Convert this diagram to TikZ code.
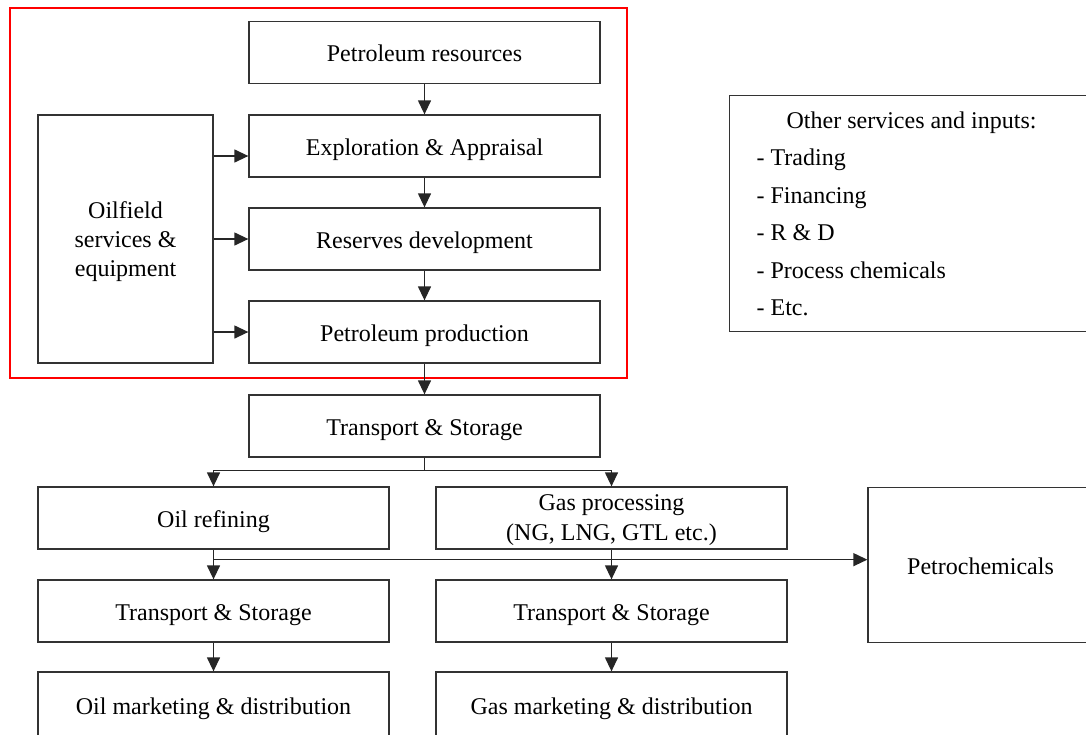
\documentclass[tikz,border=0pt]{standalone}
\usepackage{fontspec}
\setmainfont{Liberation Serif}
\usetikzlibrary{arrows.meta}

\begin{document}
\begin{tikzpicture}[
    x=1pt, y=-1pt,
    font=\fontsize{24pt}{29pt}\selectfont,
    box/.style={draw=black!80, line width=1.3pt, minimum width=351pt, minimum height=62pt, inner sep=0pt, align=center, text depth=0pt},
    line/.style={box, text height=18.5pt},
    arr/.style={draw=black!85, line width=1.3pt, -{Triangle[length=14pt,width=13pt]}},
    link/.style={draw=black!85, line width=1.3pt},
    frame/.style={draw=red, line width=2pt}
    ]

    \clip (0,0) rectangle (1086,734);
    \fill [white] (0,0) rectangle (1086,734);

    % upstream chain
    \node [line] (res)  at (424.5,52.5) {Petroleum resources};
    \node [line] (expl) at (424.5,146)  {Exploration \& Appraisal};
    \node [line] (dev)  at (424.5,239)  {Reserves development};
    \node [line] (prod) at (424.5,332)  {Petroleum production};
    \node [box, minimum width=175pt, minimum height=248pt] (ofs) at (125.5,239) {Oilfield\\ services \&\\ equipment};

    \draw [frame] (10,8) rectangle (627,378);

    \node [box, anchor=north west, text width=318pt, inner xsep=27pt, minimum height=236pt, align=flush left,
           text depth=, font=\fontsize{24pt}{37.5pt}\selectfont] (other) at (729,95)
          {\hspace*{30pt}Other services and inputs:\\- Trading\\- Financing\\- R \& D\\- Process chemicals\\- Etc.};

    % midstream and downstream
    \node [line] (trans)  at (424.5,426) {Transport \& Storage};
    \node [line] (refin)  at (213.5,518) {Oil refining};
    \node [box, font=\fontsize{24pt}{30pt}\selectfont] (gasp) at (611.5,518) {Gas processing\\ (NG, LNG, GTL etc.)};
    \node [line, minimum width=225pt, minimum height=155pt] (petro) at (980.5,565) {Petrochemicals};
    \node [line] (transo) at (213.5,611) {Transport \& Storage};
    \node [line] (transg) at (611.5,611) {Transport \& Storage};
    \node [line, minimum height=66pt] (oilm) at (213.5,705) {Oil marketing \& distribution};
    \node [line, minimum height=66pt] (gasm) at (611.5,705) {Gas marketing \& distribution};

    % connectors
    \draw [arr] (res) -- (expl);
    \draw [arr] (expl) -- (dev);
    \draw [arr] (dev) -- (prod);
    \draw [arr] (prod) -- (trans);

    \coordinate (e1) at ([yshift=-10pt]expl.west);
    \draw [arr] (e1 -| ofs.east) -- (e1);
    \draw [arr] (dev.west -| ofs.east) -- (dev.west);
    \draw [arr] (prod.west -| ofs.east) -- (prod.west);

    \draw [link] (trans.south) -- ++(0,13) coordinate (split);
    \draw [arr] (split) -| (refin.north);
    \draw [arr] (split) -| (gasp.north);

    \draw [arr] (refin) -- (transo);
    \draw [arr] (gasp) -- (transg);
    \coordinate (pc) at ([yshift=-10pt]refin.south);
    \draw [arr] (pc) -- (pc -| petro.west);

    \draw [arr] (transo) -- (oilm);
    \draw [arr] (transg) -- (gasm);
\end{tikzpicture}
\end{document}
